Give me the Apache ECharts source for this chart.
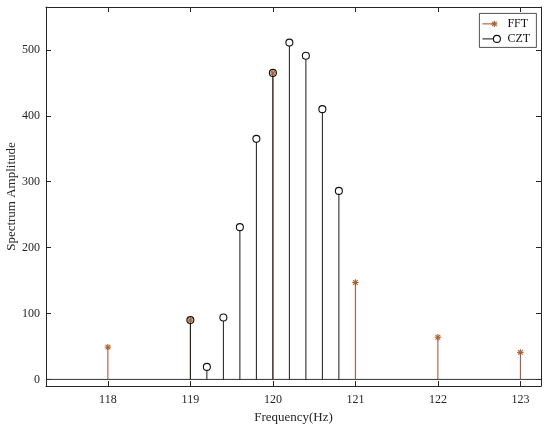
<!DOCTYPE html>
<html>
<head>
<meta charset="utf-8">
<script src="https://cdn.jsdelivr.net/npm/echarts@6/dist/echarts.min.js"></script>
<style>html,body{margin:0;padding:0;background:#fff;}#c{width:550px;height:428px;}</style>
</head>
<body>
<div id="c"></div>
<script>
// Data
const fftFreq = [118, 119, 120, 121, 122, 123];
const fftAmp = [49, 90, 465, 147, 64, 41];
const cztFreq = [119.0, 119.2, 119.4, 119.6, 119.8, 120.0, 120.2, 120.4, 120.6, 120.8];
const cztAmp = [90, 19, 94, 231, 365, 465, 511, 491, 410, 286];
const xTicks = [118, 119, 120, 121, 122, 123];
const yTicks = [0, 100, 200, 300, 400, 500];
const xRange = [117.25, 123.25];
const yRange = [-10, 565];

const FONT = '"Liberation Serif", "Times New Roman", serif';
const AX = '#262626';
const FFT_STEM = '#a04a2a';
const FFT_MARK = '#a8602a';

const chart = echarts.init(document.getElementById('c'), null, {renderer: 'canvas'});

function asteriskShape(cx, cy, r, color) {
  const d = r * 0.72;
  return {
    type: 'group',
    children: [
      {type: 'line', shape: {x1: cx - r, y1: cy, x2: cx + r, y2: cy}, style: {stroke: color, lineWidth: 1.1}},
      {type: 'line', shape: {x1: cx, y1: cy - r, x2: cx, y2: cy + r}, style: {stroke: color, lineWidth: 1.1}},
      {type: 'line', shape: {x1: cx - d, y1: cy - d, x2: cx + d, y2: cy + d}, style: {stroke: color, lineWidth: 1.1}},
      {type: 'line', shape: {x1: cx - d, y1: cy + d, x2: cx + d, y2: cy - d}, style: {stroke: color, lineWidth: 1.1}}
    ]
  };
}

function stemRender(kind) {
  return function (params, api) {
    const x = api.value(0), v = api.value(1);
    const top = api.coord([x, v]);
    const base = api.coord([x, 0]);
    const children = [];
    if (kind === 'fft') {
      children.push({type: 'line', shape: {x1: base[0], y1: base[1], x2: top[0], y2: top[1]}, style: {stroke: FFT_STEM, lineWidth: 1}});
      children.push(asteriskShape(top[0], top[1], 3.2, FFT_MARK));
    } else {
      children.push({type: 'line', shape: {x1: base[0], y1: base[1], x2: top[0], y2: top[1] + 3.5}, style: {stroke: '#1a1a1a', lineWidth: 1}});
      children.push({type: 'circle', shape: {cx: top[0], cy: top[1], r: 3.5}, style: {stroke: '#111', fill: 'transparent', lineWidth: 1.1}});
    }
    return {type: 'group', children: children};
  };
}

function baselineRender(params, api) {
  const a = api.coord([xRange[0], 0]);
  const b = api.coord([xRange[1], 0]);
  return {type: 'line', shape: {x1: a[0], y1: a[1], x2: b[0], y2: b[1]}, style: {stroke: '#333', lineWidth: 1}};
}

const labelStyle = {color: AX, fontFamily: FONT, fontSize: 12};

const option = {
  animation: false,
  backgroundColor: '#fff',
  grid: {left: 46, right: 9, top: 7, bottom: 42, containLabel: false, outerBoundsMode: 'none'},
  xAxis: [
    {
      type: 'value', min: xRange[0], max: xRange[1], position: 'bottom',
      name: 'Frequency(Hz)', nameLocation: 'middle', nameGap: 25, nameMoveOverlap: false,
      nameTextStyle: {color: AX, fontFamily: FONT, fontSize: 13},
      axisLine: {show: true, onZero: false, lineStyle: {color: AX, width: 1}},
      axisTick: {show: true, inside: true, length: 5, customValues: xTicks, lineStyle: {color: AX}},
      axisLabel: {show: true, margin: 8, customValues: xTicks, ...labelStyle},
      splitLine: {show: false}
    },
    {
      type: 'value', min: xRange[0], max: xRange[1], position: 'top',
      axisLine: {show: true, onZero: false, lineStyle: {color: AX, width: 1}},
      axisTick: {show: true, inside: true, length: 5, customValues: xTicks, lineStyle: {color: AX}},
      axisLabel: {show: false},
      splitLine: {show: false}
    }
  ],
  yAxis: [
    {
      type: 'value', min: yRange[0], max: yRange[1], position: 'left',
      name: 'Spectrum Amplitude', nameLocation: 'middle', nameGap: 28, nameRotate: 90, nameMoveOverlap: false,
      nameTextStyle: {color: AX, fontFamily: FONT, fontSize: 13},
      axisLine: {show: true, onZero: false, lineStyle: {color: AX, width: 1}},
      axisTick: {show: true, inside: true, length: 5, customValues: yTicks, lineStyle: {color: AX}},
      axisLabel: {show: true, margin: 6, customValues: yTicks, ...labelStyle},
      splitLine: {show: false}
    },
    {
      type: 'value', min: yRange[0], max: yRange[1], position: 'right',
      axisLine: {show: true, onZero: false, lineStyle: {color: AX, width: 1}},
      axisTick: {show: true, inside: true, length: 5, customValues: yTicks, lineStyle: {color: AX}},
      axisLabel: {show: false},
      splitLine: {show: false}
    }
  ],
  series: [
    {
      type: 'custom', name: 'baseline', xAxisIndex: 0, yAxisIndex: 0,
      data: [[xRange[0], 0]], renderItem: baselineRender, silent: true, clip: true, z: 1
    },
    {
      type: 'custom', name: 'FFT', xAxisIndex: 0, yAxisIndex: 0,
      data: fftFreq.map((f, i) => [f, fftAmp[i]]), renderItem: stemRender('fft'), z: 2
    },
    {
      type: 'custom', name: 'CZT', xAxisIndex: 0, yAxisIndex: 0,
      data: cztFreq.map((f, i) => [f, cztAmp[i]]), renderItem: stemRender('czt'), z: 3
    }
  ],
  graphic: [
    {
      type: 'group', left: 479, top: 13, z: 100,
      children: [
        {type: 'rect', shape: {x: 0, y: 0, width: 57, height: 34}, style: {fill: '#fff', stroke: AX, lineWidth: 0.8}},
        {type: 'line', shape: {x1: 3, y1: 10.5, x2: 15, y2: 10.5}, style: {stroke: FFT_STEM, lineWidth: 1}},
        asteriskShape(15, 10.5, 3.2, FFT_MARK),
        {type: 'text', x: 28, y: 10.5, style: {text: 'FFT', fill: '#111', font: '12px ' + FONT, verticalAlign: 'middle'}},
        {type: 'line', shape: {x1: 3, y1: 25.5, x2: 14, y2: 25.5}, style: {stroke: '#111', lineWidth: 1}},
        {type: 'circle', shape: {cx: 17.5, cy: 25.5, r: 3.5}, style: {stroke: '#111', fill: 'transparent', lineWidth: 1.1}},
        {type: 'text', x: 28, y: 25.5, style: {text: 'CZT', fill: '#111', font: '12px ' + FONT, verticalAlign: 'middle'}}
      ]
    }
  ]
};

chart.setOption(option);
</script>
</body>
</html>
